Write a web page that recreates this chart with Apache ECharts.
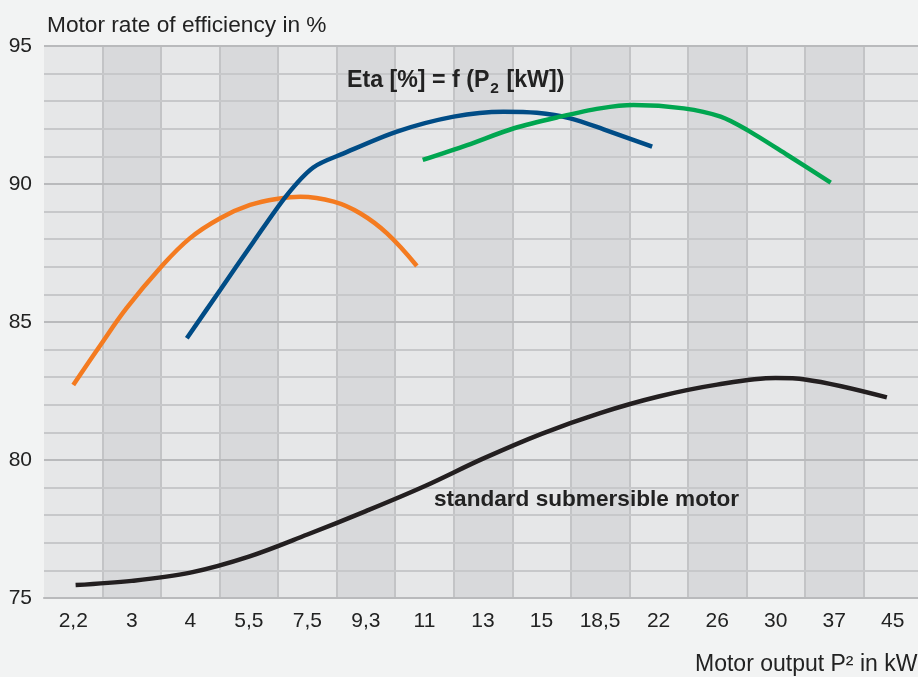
<!DOCTYPE html>
<html>
<head>
<meta charset="utf-8">
<script src="https://cdn.jsdelivr.net/npm/echarts@6/dist/echarts.min.js"></script>
<style>
html,body{margin:0;padding:0;background:#f2f3f3;overflow:hidden;}
#chart{width:918px;height:677px;}
</style>
</head>
<body>
<div id="chart"></div>
<script>
// Category labels (motor output P2 in kW)
const categories = ['2,2','3','4','5,5','7,5','9,3','11','13','15','18,5','22','26','30','37','45'];
// Y axis range
const yMin = 75, yMax = 95;
// Curves: [category position, efficiency %]
const orangeCurve = [[0.0,82.72],[0.46,84.15],[0.91,85.5],[1.48,86.95],[1.99,88.03],[2.51,88.76],[3.02,89.24],[3.53,89.48],[3.88,89.54],[4.45,89.36],[4.9,88.94],[5.36,88.21],[5.87,87.03]];
const blueCurve = [[1.94,84.41],[2.51,86.16],[3.08,87.91],[3.65,89.6],[4.1,90.6],[4.62,91.11],[5.53,91.9],[6.5,92.44],[7.35,92.62],[7.92,92.58],[8.49,92.38],[9.06,91.98],[9.89,91.35]];
const greenCurve = [[5.97,90.87],[6.73,91.41],[7.53,92.02],[8.32,92.44],[9.0,92.74],[9.57,92.86],[10.43,92.74],[11.06,92.44],[11.51,91.96],[12.2,91.05],[12.94,90.05]];
const blackCurve = [[0.04,75.47],[1,75.62],[2,75.92],[3,76.5],[4,77.3],[5,78.15],[6,79.05],[7,80.05],[8,80.95],[9,81.7],[10,82.3],[11,82.73],[12,82.97],[12.5,82.92],[13.9,82.27]];

const FONT = '"Liberation Sans", Arial, sans-serif';
const chart = echarts.init(document.getElementById('chart'), null, {renderer:'canvas'});

function line(data, color, z, smooth) {
  return {
    type: 'line', xAxisIndex: 1, yAxisIndex: 0, data: data,
    smooth: smooth, showSymbol: false, symbol: 'none', z: z,
    lineStyle: {color: color, width: 4.5, cap: 'butt'},
    silent: true, animation: false
  };
}

chart.setOption({
  backgroundColor: '#f2f3f3',
  animation: false,
  title: {
    text: 'Motor rate of efficiency in %',
    left: 42, top: 9,
    textStyle: {fontFamily: FONT, fontSize: 22.7, fontWeight: 'normal', color: '#222'}
  },
  grid: {left: 44, top: 46, width: 878, bottom: 79, containLabel: false, outerBoundsMode: 'none'},
  xAxis: [
    {
      type: 'category', data: categories, boundaryGap: true,
      axisLine: {show: true, lineStyle: {color: '#b5b6b8', width: 2}},
      axisTick: {show: false},
      axisLabel: {fontFamily: FONT, fontSize: 21, color: '#222', margin: 13, interval: 0},
      splitLine: {show: true, interval: 0, showMinLine: false, showMaxLine: false, lineStyle: {color: '#c3c4c6', width: 2}},
      splitArea: {show: true, interval: 0, areaStyle: {color: ['#e6e7e8', '#d8d9db']}},
      z: 0
    },
    {
      type: 'value', min: -0.5, max: 14.5, show: false,
      splitLine: {show: false}
    }
  ],
  yAxis: {
    type: 'value', min: yMin, max: yMax, interval: 1,
    axisLine: {show: false}, axisTick: {show: false},
    axisLabel: {
      fontFamily: FONT, fontSize: 21, color: '#222', margin: 12,
      formatter: v => (v % 5 === 0 ? String(v) : '')
    },
    splitLine: {show: true, lineStyle: {color: ['#b9babc','#c7c8ca','#c7c8ca','#c7c8ca','#c7c8ca'], width: 2}},
    z: 2
  },
  graphic: [
    {
      type: 'text', left: 695, top: 653, z: 10,
      style: {text: 'Motor output P² in kW', font: '23px ' + FONT, fill: '#222'}
    },
    {
      type: 'text', left: 347, top: 69, z: 10,
      style: {
        text: '{a|Eta [%] = f (P}{s|2}{a| [kW])}',
        rich: {
          a: {font: 'bold 23.2px ' + FONT, fill: '#222', lineHeight: 28, verticalAlign: 'top'},
          s: {font: 'bold 15.5px ' + FONT, fill: '#222', lineHeight: 28, verticalAlign: 'bottom', padding: [12,1,0,1]}
        }
      }
    },
    {
      type: 'text', left: 434, top: 488, z: 10,
      style: {text: 'standard submersible motor', font: 'bold 22.6px ' + FONT, fill: '#222'}
    }
  ],
  series: [
    line(blackCurve, '#231f20', 5, 0.35),
    line(orangeCurve, '#f47b20', 6, 0.4),
    line(blueCurve, '#004c86', 7, 0.3),
    line(greenCurve, '#00a650', 8, 0.3)
  ]
});
</script>
</body>
</html>
